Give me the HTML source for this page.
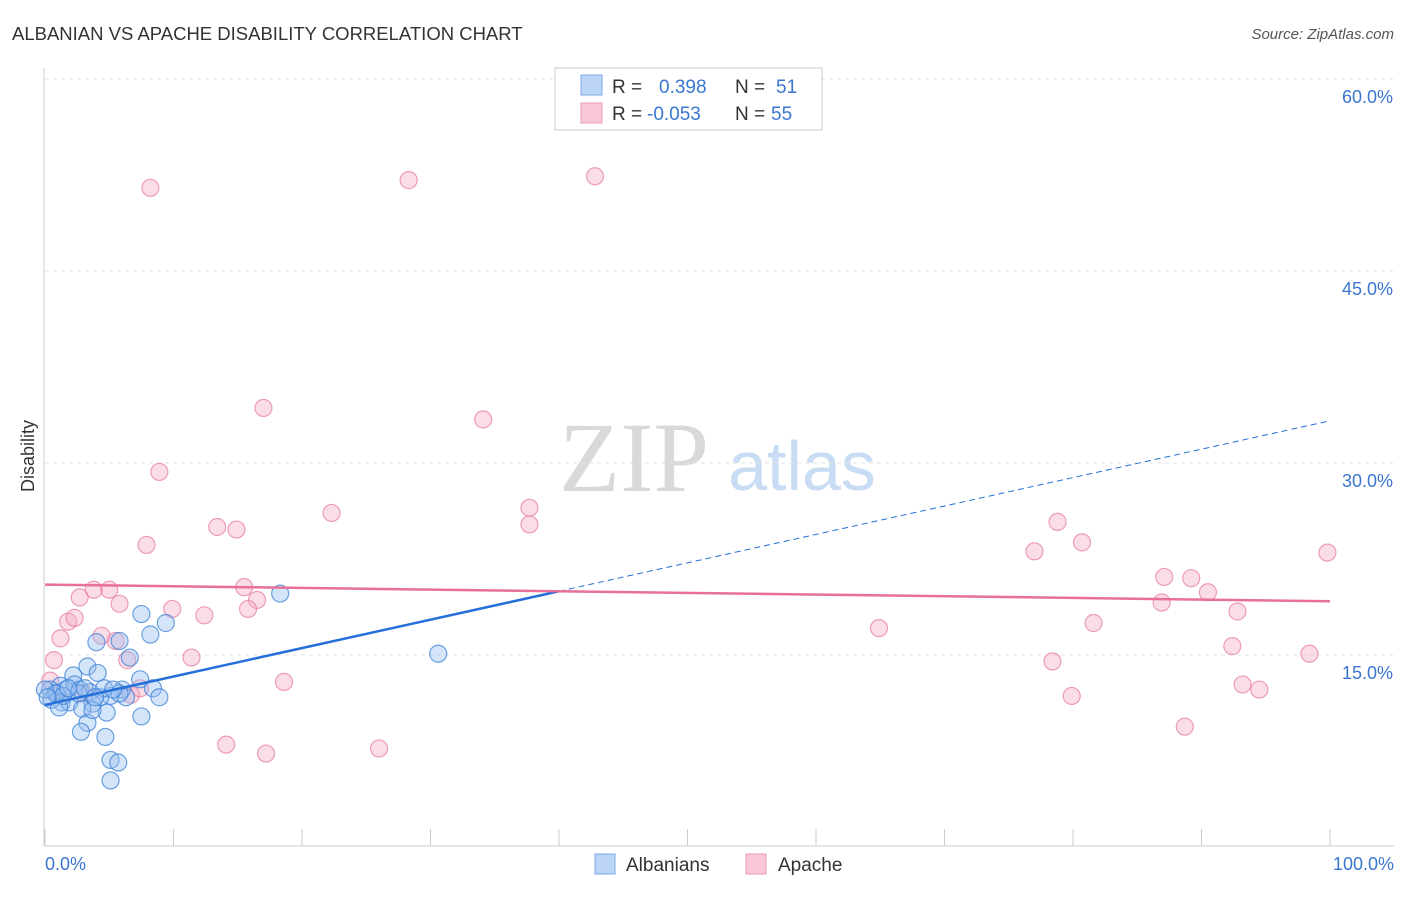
<!DOCTYPE html>
<html><head><meta charset="utf-8"><style>
body{margin:0;background:#fff;font-family:"Liberation Sans",sans-serif}
svg text{font-family:"Liberation Sans",sans-serif}
svg text.serif{font-family:"Liberation Serif",serif}
</style></head><body>
<svg id="c" width="1406" height="892" xmlns="http://www.w3.org/2000/svg">
<text x="12" y="40" font-size="18.5" fill="#333">ALBANIAN VS APACHE DISABILITY CORRELATION CHART</text>
<text x="1394" y="39" font-size="15" fill="#555" font-style="italic" text-anchor="end">Source: ZipAtlas.com</text>
<text class="serif" x="634" y="491" font-size="100" fill="#d9d9d9" text-anchor="middle">ZIP</text>
<text x="802" y="490" font-size="70" fill="#c8dcf3" text-anchor="middle">atlas</text>
<g id="grid"></g>
<line x1="44" y1="68" x2="44" y2="846" stroke="#ccc"/>
<line x1="44" y1="846" x2="1394" y2="846" stroke="#ccc"/>
<g id="xt"></g>
<text x="34" y="456" font-size="18" fill="#333" transform="rotate(-90 34 456)" text-anchor="middle">Disability</text>
<text x="45" y="870" font-size="18" fill="#3a76d0">0.0%</text>
<text x="1394" y="870" font-size="18" fill="#3a76d0" text-anchor="end">100.0%</text>
<g id="pts"></g>
<g id="lines"></g>
<g>
<rect x="555" y="68" width="267" height="62" fill="#fff" stroke="#ccc"/>
<rect x="581" y="75" width="21" height="20" fill="#bcd4f5" stroke="#7aa7e6"/>
<rect x="581" y="103" width="21" height="20" fill="#f9c8d6" stroke="#eb9ab3"/>
<text x="612" y="93" font-size="19" fill="#333">R = </text><text x="659" y="93" font-size="19" fill="#3a76d0">0.398</text>
<text x="735" y="93" font-size="19" fill="#333">N = </text><text x="776" y="93" font-size="19" fill="#3a76d0">51</text>
<text x="612" y="120" font-size="19" fill="#333">R = </text><text x="647" y="120" font-size="19" fill="#3a76d0">-0.053</text>
<text x="735" y="120" font-size="19" fill="#333">N = </text><text x="771" y="120" font-size="19" fill="#3a76d0">55</text>
</g>
<g>
<rect x="595" y="854" width="20" height="20" fill="#bcd4f5" stroke="#7aa7e6"/>
<text x="626" y="871" font-size="19" fill="#333">Albanians</text>
<rect x="746" y="854" width="20" height="20" fill="#f9c8d6" stroke="#eb9ab3"/>
<text x="778" y="871" font-size="19" fill="#333">Apache</text>
</g>
</svg>
<script>
const yTicks=[15,30,45,60];
const xTickVals=[0,10,20,30,40,50,60,70,80,90,100];
const blueX=[18.3,30.6,7.5,9.4,8.2,4.0,5.8,6.6,3.3,4.1,7.4,8.4,8.9,6.0,5.1,6.3,2.2,1.2,0.4,0.8,1.6,2.3,2.7,3.5,4.3,4.6,3.7,1.3,0.5,1.9,2.9,4.8,7.5,3.3,2.8,4.7,5.1,5.7,5.1,0.9,0.0,5.8,3.7,2.6,1.1,3.1,5.3,1.4,0.2,1.8,3.9];
const blueY=[19.8,15.1,18.2,17.5,16.6,16.0,16.1,14.8,14.1,13.6,13.1,12.4,11.7,12.3,11.8,11.7,13.4,12.6,12.3,12.0,12.3,12.7,12.3,12.1,11.7,12.4,11.2,11.3,11.5,11.3,10.8,10.5,10.2,9.7,9.0,8.6,6.8,6.6,5.2,12.0,12.3,12.0,10.7,12.0,10.9,12.4,12.3,11.8,11.7,12.4,11.7];
const pinkX=[8.2,28.3,42.8,17.0,34.1,8.9,22.3,13.4,14.9,37.7,37.7,7.9,78.8,80.7,77.0,99.8,87.1,89.2,90.5,86.9,92.8,81.6,64.9,92.4,98.4,78.4,93.2,94.5,79.9,88.7,3.8,5.0,2.7,5.8,9.9,12.4,15.5,16.5,15.8,1.8,2.3,1.2,4.4,5.5,0.7,6.4,11.4,0.4,6.7,7.4,18.6,14.1,17.2,26.0,3.0];
const pinkY=[51.5,52.1,52.4,34.3,33.4,29.3,26.1,25.0,24.8,26.5,25.2,23.6,25.4,23.8,23.1,23.0,21.1,21.0,19.9,19.1,18.4,17.5,17.1,15.7,15.1,14.5,12.7,12.3,11.8,9.4,20.1,20.1,19.5,19.0,18.6,18.1,20.3,19.3,18.6,17.6,17.9,16.3,16.5,16.1,14.6,14.6,14.8,13.0,11.9,12.4,12.9,8.0,7.3,7.7,12.0];
const blueTrend=[11.1,33.3];
const pinkTrend=[20.5,19.2];
const blueSolidEnd=40;
const NS="http://www.w3.org/2000/svg";
const sx=v=>45+v*12.85, sy=v=>847-v*12.8;
function mk(t,a,p){const e=document.createElementNS(NS,t);for(const k in a)e.setAttribute(k,a[k]);p.appendChild(e);return e;}
const grid=document.getElementById('grid');
yTicks.forEach(v=>{
 const l=mk('line',{x1:45,x2:1394,y1:sy(v),y2:sy(v),stroke:'#e2e2e2','stroke-dasharray':'4,4'},grid);
 
 
 const t=mk('text',{x:1393,y:sy(v)+24,'font-size':18,fill:'#3a76d0','text-anchor':'end'},grid);
 t.textContent=v.toFixed(1)+'%';
 
 
});
const xt=document.getElementById('xt');
xTickVals.forEach(v=>{
 const l=mk('line',{x1:sx(v),x2:sx(v),y1:829,y2:846,stroke:'#ccc'},xt);
 
 
});
const pts=document.getElementById('pts');
pinkX.forEach((x,i)=>{
 const c=mk('circle',{cx:sx(x),cy:sy(pinkY[i]),r:8.5,fill:'rgba(245,170,195,0.4)',stroke:'rgba(230,120,155,0.7)','stroke-width':1.2},pts);
 
 
});
blueX.forEach((x,i)=>{
 const c=mk('circle',{cx:sx(x),cy:sy(blueY[i]),r:8.5,fill:'rgba(150,190,240,0.4)',stroke:'rgba(60,130,215,0.75)','stroke-width':1.2},pts);
 
 
});
const lines=document.getElementById('lines');
const by=x=>blueTrend[0]+(blueTrend[1]-blueTrend[0])*x/100;
const b1=mk('line',{x1:sx(0),y1:sy(by(0)),x2:sx(blueSolidEnd),y2:sy(by(blueSolidEnd)),stroke:'#2470d8','stroke-width':2.5},lines);


const b2=mk('line',{x1:sx(blueSolidEnd),y1:sy(by(blueSolidEnd)),x2:sx(100),y2:sy(by(100)),stroke:'#2470d8','stroke-width':1,'stroke-dasharray':'6,4'},lines);


const p1=mk('line',{x1:sx(0),y1:sy(pinkTrend[0]),x2:sx(100),y2:sy(pinkTrend[1]),stroke:'#e8709a','stroke-width':2.5},lines);


</script>
</body></html>
